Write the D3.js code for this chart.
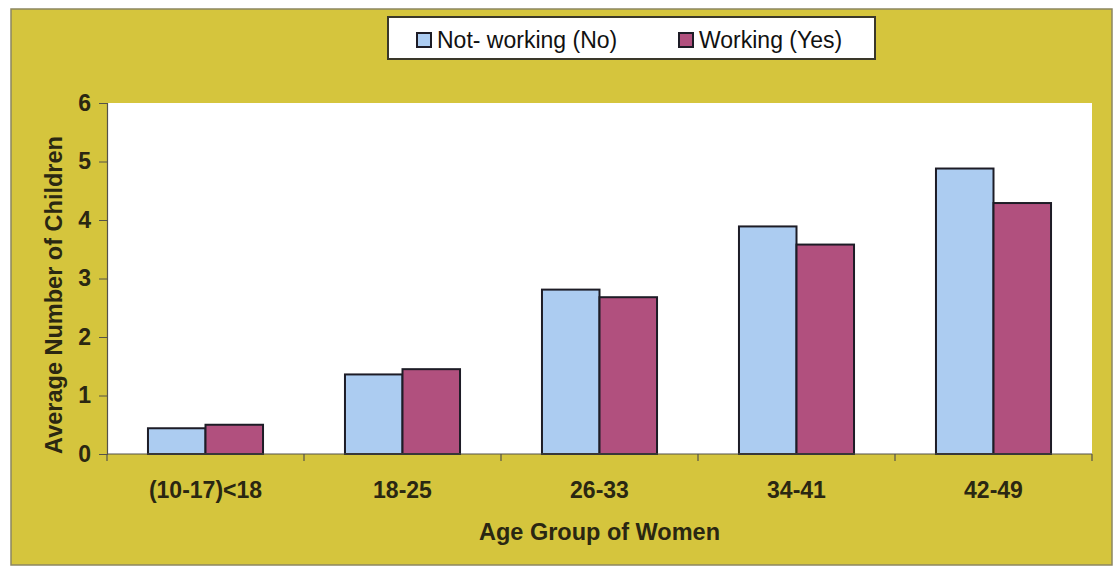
<!DOCTYPE html>
<html>
<head>
<meta charset="utf-8">
<script src="https://cdn.jsdelivr.net/npm/d3@7"></script>
<style>
  html, body { margin: 0; padding: 0; background: #ffffff; }
  svg { display: block; font-family: "Liberation Sans", Arial, sans-serif; }
</style>
</head>
<body>
<svg id="chart" width="1117" height="568"></svg>
<script>
// Average number of children by age group of women, split by work status
const ageGroups = ["(10-17)<18", "18-25", "26-33", "34-41", "42-49"];
const seriesNames = ["Not- working (No)", "Working (Yes)"];
const notWorking = [0.44, 1.36, 2.81, 3.89, 4.88];
const working = [0.50, 1.45, 2.68, 3.58, 4.29];
const yTicks = [0, 1, 2, 3, 4, 5, 6];

const colors = ["#acccf1", "#b1507e"];
const ink = "#2a2712";

const svg = d3.select("#chart");

// yellow chart frame
svg.append("rect")
  .attr("x", 11).attr("y", 9).attr("width", 1101).attr("height", 556)
  .attr("fill", "#d5c53d").attr("stroke", "#8c8660").attr("stroke-width", 1.5);

const plot = { left: 107, right: 1092, top: 103, bottom: 454 };

const x0 = d3.scaleBand().domain(ageGroups)
  .range([plot.left, plot.right]).paddingInner(0.416).paddingOuter(0.208);
const x1 = d3.scaleBand().domain(seriesNames).range([0, x0.bandwidth()]);
const y = d3.scaleLinear().domain([0, 6]).range([plot.bottom, plot.top]);

// white plotting area
svg.append("rect")
  .attr("x", plot.left).attr("y", plot.top)
  .attr("width", plot.right - plot.left).attr("height", plot.bottom - plot.top)
  .attr("fill", "#ffffff");

// bars
const rows = ageGroups.map((g, i) => ({ group: g, values: [notWorking[i], working[i]] }));
const groups = svg.append("g").selectAll("g").data(rows).join("g")
  .attr("transform", d => `translate(${x0(d.group)},0)`);
groups.selectAll("rect")
  .data(d => d.values.map((v, k) => ({ name: seriesNames[k], value: v, k })))
  .join("rect")
  .attr("x", d => x1(d.name))
  .attr("y", d => y(d.value))
  .attr("width", x1.bandwidth())
  .attr("height", d => y(0) - y(d.value))
  .attr("fill", d => colors[d.k])
  .attr("stroke", "#1d1c26").attr("stroke-width", 2);

// y axis
const yAxis = svg.append("g")
  .attr("transform", `translate(${plot.left},0)`)
  .call(d3.axisLeft(y).tickValues(yTicks).tickSize(8).tickPadding(8).tickFormat(d3.format("d")));
yAxis.select(".domain").attr("stroke", "#55524a").attr("stroke-width", 1.2);
yAxis.selectAll(".tick line").attr("stroke", "#55524a");
yAxis.selectAll(".tick text")
  .attr("fill", ink).attr("font-size", 23).attr("font-weight", "bold");

// x axis with ticks between categories
const xAxis = svg.append("g")
  .attr("transform", `translate(0,${plot.bottom})`);
xAxis.append("line")
  .attr("x1", plot.left).attr("x2", plot.right)
  .attr("stroke", "#55524a").attr("stroke-width", 1.2);
const step = x0.step();
const bounds = ageGroups.map(g => x0(g) - x0.paddingOuter() * step).concat([plot.right]);
xAxis.selectAll("line.sep").data(bounds).join("line")
  .attr("class", "sep")
  .attr("x1", d => d).attr("x2", d => d).attr("y1", 0).attr("y2", 7)
  .attr("stroke", "#55524a").attr("stroke-width", 1.2);
xAxis.selectAll("text").data(ageGroups).join("text")
  .attr("x", d => x0(d) + x0.bandwidth() / 2)
  .attr("y", 44)
  .attr("text-anchor", "middle")
  .attr("fill", ink).attr("font-size", 23).attr("font-weight", "bold")
  .text(d => d);

// axis titles
svg.append("text")
  .attr("x", (plot.left + plot.right) / 2).attr("y", 540)
  .attr("text-anchor", "middle")
  .attr("fill", ink).attr("font-size", 23.5).attr("font-weight", "bold")
  .text("Age Group of Women");
svg.append("text")
  .attr("transform", "translate(62,295) rotate(-90)")
  .attr("text-anchor", "middle")
  .attr("fill", ink).attr("font-size", 23.5).attr("font-weight", "bold")
  .text("Average Number of Children");

// legend
const legend = svg.append("g");
legend.append("rect")
  .attr("x", 388).attr("y", 17).attr("width", 487).attr("height", 42)
  .attr("fill", "#ffffff").attr("stroke", "#3a382a").attr("stroke-width", 2);
const legendX = [417, 679];
seriesNames.forEach((name, k) => {
  legend.append("rect")
    .attr("x", legendX[k]).attr("y", 33).attr("width", 14).attr("height", 14)
    .attr("fill", colors[k]).attr("stroke", "#1d1c26").attr("stroke-width", 2);
  legend.append("text")
    .attr("x", legendX[k] + 20).attr("y", 48)
    .attr("fill", "#111111").attr("font-size", 23)
    .text(name);
});
</script>
</body>
</html>
